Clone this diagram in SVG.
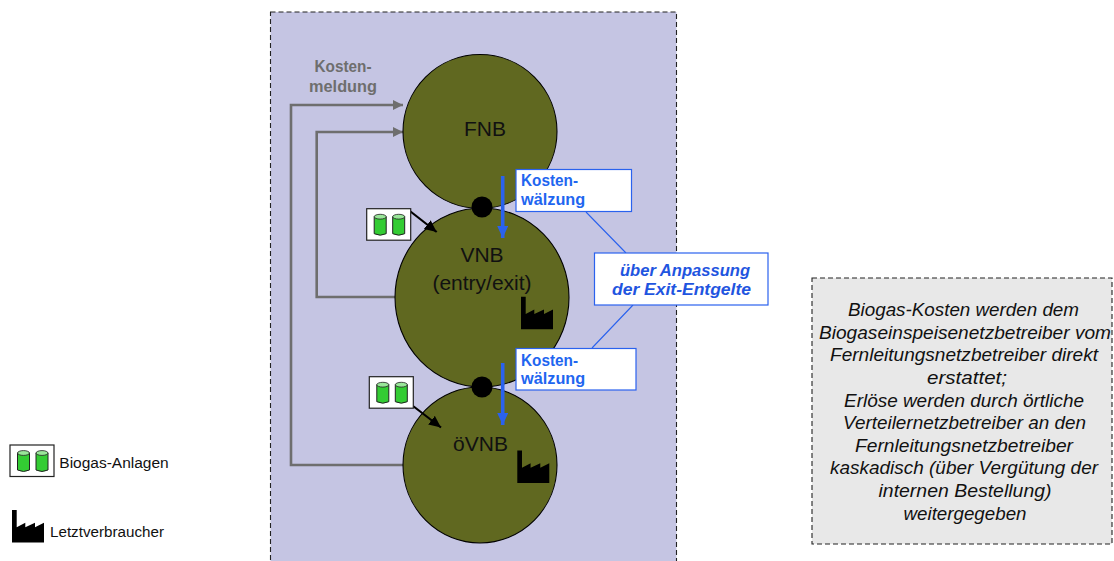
<svg xmlns="http://www.w3.org/2000/svg" width="1114" height="561" viewBox="0 0 1114 561">
<style>
text{font-family:"Liberation Sans",Arial,sans-serif}
.c{fill:#606820;stroke:#000;stroke-width:1.1}
.n{font-size:21px;fill:#111;text-anchor:middle}
.g{fill:none;stroke:#6e6e6e;stroke-width:2.6}
.b{fill:#fff;stroke:#2a62ee;stroke-width:1.2}
.bt{font-size:16.3px;font-weight:bold;fill:#1f66f0}
.l{stroke:#2a62ee;stroke-width:1.1;fill:none}
.it{font-size:19.2px;font-style:italic;fill:#111;text-anchor:middle}
.k{fill:#000}
.cy{fill:#33cc33;stroke:#222;stroke-width:1}
.cyt{fill:#99e699;stroke:#222;stroke-width:.8}
</style>
<defs>
<marker id="ag" markerUnits="userSpaceOnUse" markerWidth="11" markerHeight="11" refX="10" refY="5" orient="auto"><path d="M0 0L10 5L0 10Z" fill="#6e6e6e"/></marker>
<marker id="ab" markerUnits="userSpaceOnUse" markerWidth="12" markerHeight="12" refX="12" refY="5.500" orient="auto"><path d="M0 0L12 5.500L0 11Z" fill="#2a62ee"/></marker>
<marker id="ak" markerUnits="userSpaceOnUse" markerWidth="12" markerHeight="12" refX="12" refY="5.500" orient="auto"><path d="M0 0L12 5.500L0 11Z" fill="#000"/></marker>
<g id="tanks">
<rect width="44" height="31.500" fill="#fff" stroke="#222" stroke-width="1.200"/>
<path class="cy" d="M7.500 8V25Q13.500 28 19.500 25V8Z"/><ellipse class="cyt" cx="13.500" cy="8" rx="6" ry="2.400"/>
<path class="cy" d="M26 8V25Q32 28 38 25V8Z"/><ellipse class="cyt" cx="32" cy="8" rx="6" ry="2.400"/>
</g>
<path id="factory" d="M0 0H4.700V17.300L13.300 12.700V17.300L23 12.700V17.300L32 12.700V32.500H0Z"/>
</defs>
<g id="panel"><rect x="270.500" y="12" width="406" height="560" fill="#c5c5e3" stroke="#222" stroke-width="1.100" stroke-dasharray="5 3"/></g>
<g id="connectors">
<path class="g" marker-end="url(#ag)" d="M404 465H291V105H403"/>
<path class="g" marker-end="url(#ag)" d="M396 297H316.700V132H403"/>
<path class="l" d="M586 212L626 253M633 305L592 348"/>
</g>
<g id="FNB"><circle class="c" cx="480" cy="131.500" r="77"/><text class="n" x="485" y="136">FNB</text></g>
<g id="VNB"><ellipse class="c" cx="482" cy="297.500" rx="87" ry="89.500"/><text class="n" x="482" y="262">VNB</text><text class="n" x="482" y="290">(entry/exit)</text><use href="#factory" x="521" y="296.700" class="k"/></g>
<g id="oeVNB"><ellipse class="c" cx="480" cy="465" rx="77" ry="78"/><text class="n" x="480.500" y="451">öVNB</text><use href="#factory" x="517.300" y="450.500" class="k"/></g>
<g id="dots"><circle class="k" cx="482" cy="207" r="10.500"/><circle class="k" cx="482" cy="387" r="10.500"/></g>
<g id="label-meldung" font-size="16.300" font-weight="bold" fill="#6e6e6e" text-anchor="middle"><text x="343" y="71.500" textLength="57" lengthAdjust="spacingAndGlyphs">Kosten-</text><text x="343" y="91.500">meldung</text></g>
<g id="box1"><rect class="b" x="516" y="169.500" width="115.500" height="42"/><text class="bt" x="521" y="186" textLength="57" lengthAdjust="spacingAndGlyphs">Kosten-</text><text class="bt" x="521" y="205">wälzung</text></g>
<g id="box2"><rect class="b" x="516" y="348.500" width="120" height="41.500"/><text class="bt" x="521" y="365.500" textLength="57" lengthAdjust="spacingAndGlyphs">Kosten-</text><text class="bt" x="521" y="384">wälzung</text></g>
<g id="box3"><rect class="b" x="594.500" y="253" width="173.500" height="52"/><g font-size="17" font-weight="bold" font-style="italic" fill="#1f55e0" text-anchor="middle"><text x="685" y="276" textLength="130" lengthAdjust="spacingAndGlyphs">über Anpassung</text><text x="681.500" y="295" textLength="139" lengthAdjust="spacingAndGlyphs">der Exit-Entgelte</text></g></g>
<g id="flows">
<path stroke="#2a62ee" stroke-width="3.600" fill="none" marker-end="url(#ab)" d="M502.700 176V238"/>
<path stroke="#2a62ee" stroke-width="3.600" fill="none" marker-end="url(#ab)" d="M502.700 363V425"/>
<path stroke="#000" stroke-width="2.200" fill="none" marker-end="url(#ak)" d="M410.500 211.500L436.700 232"/>
<path stroke="#000" stroke-width="2.200" fill="none" marker-end="url(#ak)" d="M413 406L441 427.500"/>
</g>
<g id="tank1"><use href="#tanks" x="366.700" y="208.700"/></g>
<g id="tank2"><use href="#tanks" x="369.300" y="376.700"/></g>
<g id="legend-biogas"><use href="#tanks" x="10" y="445"/><text x="59.300" y="468" font-size="15.500" fill="#111">Biogas-Anlagen</text></g>
<g id="legend-verbraucher"><use href="#factory" x="12" y="510" class="k"/><text x="50" y="537" font-size="15.200" fill="#111">Letztverbraucher</text></g>
<g id="note"><rect x="812" y="278" width="300" height="266" fill="#e8e8e8" stroke="#222" stroke-width="1.100" stroke-dasharray="5 3"/>
<text class="it" x="963.500" y="316" textLength="231" lengthAdjust="spacingAndGlyphs">Biogas-Kosten werden dem</text>
<text class="it" x="965" y="338.500" textLength="292" lengthAdjust="spacingAndGlyphs">Biogaseinspeisenetzbetreiber vom</text>
<text class="it" x="964" y="361" textLength="268" lengthAdjust="spacingAndGlyphs">Fernleitungsnetzbetreiber direkt</text>
<text class="it" x="967" y="384" textLength="80" lengthAdjust="spacingAndGlyphs">erstattet;</text>
<text class="it" x="964" y="407" textLength="240" lengthAdjust="spacingAndGlyphs">Erlöse werden  durch örtliche</text>
<text class="it" x="964.500" y="429" textLength="243" lengthAdjust="spacingAndGlyphs">Verteilernetzbetreiber an den</text>
<text class="it" x="964" y="451.500" textLength="218" lengthAdjust="spacingAndGlyphs">Fernleitungsnetzbetreiber</text>
<text class="it" x="964" y="474" textLength="268" lengthAdjust="spacingAndGlyphs">kaskadisch (über Vergütung der</text>
<text class="it" x="965" y="497" textLength="173" lengthAdjust="spacingAndGlyphs">internen Bestellung)</text>
<text class="it" x="965" y="520" textLength="123" lengthAdjust="spacingAndGlyphs">weitergegeben</text>
</g>
</svg>
